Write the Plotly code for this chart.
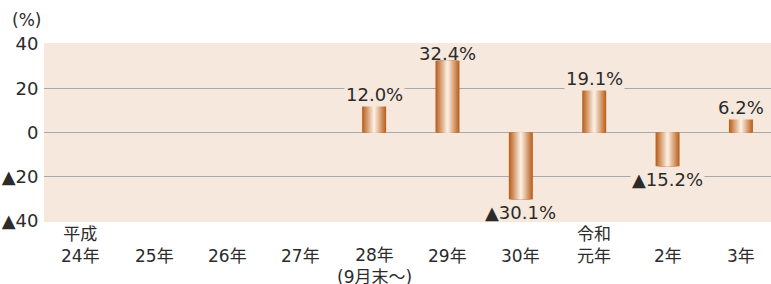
import plotly.graph_objects as go

# ---- data ----
categories = ["H24", "H25", "H26", "H27", "H28", "H29", "H30", "R1", "R2", "R3"]
main_labels = ["24年", "25年", "26年", "27年", "28年", "29年", "30年", "元年", "2年", "3年"]
upper_labels = ["平成", "", "", "", "", "", "", "令和", "", ""]
lower_labels = ["", "", "", "", "(9月末～)", "", "", "", "", ""]
values = [None, None, None, None, 12.0, 32.4, -30.1, 19.1, -15.2, 6.2]
value_labels = ["", "", "", "", "12.0%", "32.4%", "▲30.1%", "19.1%", "▲15.2%", "6.2%"]
y_tickvals = [40, 20, 0, -20, -40]
y_ticktext = ["40", "20", "0", "▲20", "▲40"]

# ---- style ----
FONT = "DejaVu Sans, Noto Sans CJK JP"
TEXT = "#2b2b2b"
PLOT_BG = "#f6e8dc"
GRID = "#a9a9a9"
DARK = (186, 96, 30)
LIGHT = (251, 238, 225)
BAR_W = 0.327
N_LAYERS = 14

W, H = 771, 284
L, R, T, B = 44, 0, 43, 62
plot_h = H - T - B


def py(p):
    """pixel row -> paper y"""
    return (H - B - p) / plot_h


fig = go.Figure()
for k in range(N_LAYERS):
    t = k / (N_LAYERS - 1)
    c = tuple(round(DARK[i] + (LIGHT[i] - DARK[i]) * t) for i in range(3))
    fig.add_trace(go.Bar(
        x=categories, y=values,
        width=BAR_W * (1 - k / N_LAYERS),
        marker=dict(color="rgb(%d,%d,%d)" % c, line=dict(width=0)),
        hoverinfo="skip", showlegend=False,
    ))

annotations = []
for cat, v, lab in zip(categories, values, value_labels):
    if v is None:
        continue
    if v > 0:
        ys = -5 if v > 30 else -1
    else:
        ys = -1
    annotations.append(dict(
        x=cat, y=v, xref="x", yref="y", text=lab, showarrow=False,
        yanchor="bottom" if v > 0 else "top",
        yshift=ys,
        font=dict(family=FONT, size=18, color=TEXT),
        bgcolor=PLOT_BG if abs(v) < 30 else "rgba(0,0,0,0)", borderpad=1,
    ))

for cat, m, u, lo in zip(categories, main_labels, upper_labels, lower_labels):
    if u:
        annotations.append(dict(x=cat, y=py(268), xref="x", yref="paper", text=u + "<br>" + m,
                                showarrow=False, yanchor="bottom",
                                font=dict(family=FONT, size=17, color=TEXT)))
    elif lo:
        annotations.append(dict(x=cat, y=py(243), xref="x", yref="paper", text=m + "<br>" + lo,
                                showarrow=False, yanchor="top",
                                font=dict(family=FONT, size=17, color=TEXT)))
    else:
        annotations.append(dict(x=cat, y=py(256), xref="x", yref="paper", text=m,
                                showarrow=False, yanchor="middle",
                                font=dict(family=FONT, size=17, color=TEXT)))

annotations.append(dict(x=(26 - L) / (W - L - R), y=py(20), xref="paper", yref="paper",
                        text="(%)", showarrow=False, xanchor="center", yanchor="middle",
                        font=dict(family=FONT, size=17, color=TEXT)))

fig.update_layout(
    width=W, height=H,
    margin=dict(l=L, r=R, t=T, b=B, pad=0, autoexpand=False),
    paper_bgcolor="white", plot_bgcolor=PLOT_BG,
    barmode="overlay",
    annotations=annotations,
    xaxis=dict(type="category", categoryorder="array", categoryarray=categories,
               range=[-0.5, 9.41], automargin=False,
               showticklabels=False, showgrid=False, zeroline=False, ticks=""),
    yaxis=dict(range=[-40.4, 40.4], tickvals=y_tickvals, ticktext=y_ticktext,
               automargin=False,
               showgrid=True, gridcolor=GRID, gridwidth=1,
               zeroline=True, zerolinecolor=GRID, zerolinewidth=1.6,
               ticks="outside", ticklen=1, tickcolor="rgba(0,0,0,0)",
               tickfont=dict(family=FONT, size=18, color=TEXT)),
)

fig.write_html("out.html", config={"displayModeBar": False, "staticPlot": True},
               post_script="document.body.style.margin='0';document.body.style.overflow='hidden';")
